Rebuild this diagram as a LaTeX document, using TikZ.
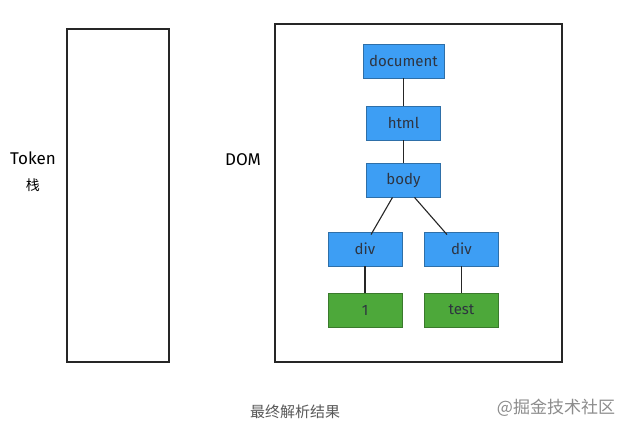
\documentclass[tikz,border=0pt]{standalone}
\usepackage{fontspec}
\setmainfont{Fira Sans}
\newfontfamily\cjk{Noto Sans CJK SC}
\definecolor{nblue}{HTML}{3D9EF4}
\definecolor{nblueb}{HTML}{2E6FA8}
\definecolor{ngreen}{HTML}{4DA83A}
\definecolor{ngreenb}{HTML}{3A7A2C}
\definecolor{ntext}{HTML}{2E3440}
\begin{document}
\begin{tikzpicture}[x=1pt,y=-1pt,
  bluebox/.style={draw=nblueb,fill=nblue,line width=0.8pt,minimum width=74pt,minimum height=34pt,inner sep=0pt,text=ntext,font=\fontsize{15}{17}\selectfont},
  greenbox/.style={draw=ngreenb,fill=ngreen,line width=0.8pt,minimum width=74pt,minimum height=34pt,inner sep=0pt,text=ntext,font=\fontsize{15}{17}\selectfont},
  frame/.style={draw=black!85,line width=1.2pt},
  link/.style={draw=black!85,line width=1.1pt},
  lbl/.style={text=black,font=\fontsize{17}{19}\selectfont}]
\useasboundingbox[fill=white] (0,0) rectangle (630,436);
\draw[frame] (67,29) rectangle (169,362);
\draw[frame] (275,24) rectangle (562,362);
\node[bluebox,minimum width=81pt] (doc) at (403.5,61) {document};
\node[bluebox] (html) at (403.5,123) {html};
\node[bluebox] (body) at (403.5,180) {body};
\node[bluebox] (div1) at (365,249) {div};
\node[bluebox] (div2) at (461.5,249) {div};
\node[greenbox] (one) at (365,310) {1};
\node[greenbox] (test) at (461.5,310) {test};
\draw[link] (doc) -- (html);
\draw[link] (html) -- (body);
\draw[link] (body.south) ++(-11,0) coordinate (b1) -- ([yshift=-3pt]div1.north -| 371,0);
\draw[link] (body.south) ++(11,0) coordinate (b2) -- ([yshift=-3pt]div2.north -| 447,0);
\draw[link] (div1) -- (one);
\draw[link] (div2) -- (test);
\node[lbl] (token) at (33,158) {Token};
\node[font=\cjk\fontsize{14}{16}\selectfont] (zhan) at (33,185) {栈};
\node[lbl] (dom) at (243,160) {DOM};
\node[font=\cjk\fontsize{15}{17}\selectfont,text=black!65] (cap) at (295,412) {最终解析结果};
\node[font=\cjk\fontsize{17}{19}\selectfont,text=black!45] (wm) at (556,408) {@掘金技术社区};
\end{tikzpicture}
\end{document}
